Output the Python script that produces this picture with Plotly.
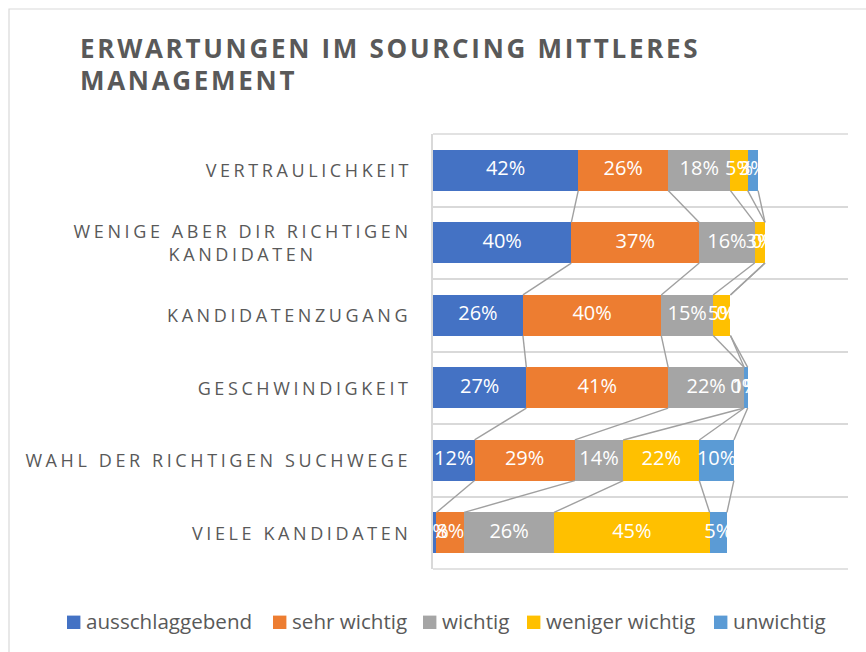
import plotly.graph_objects as go

# ---------------- data ----------------
categories = [
    "VERTRAULICHKEIT",
    "WENIGE ABER DIR RICHTIGEN<br>KANDIDATEN",
    "KANDIDATENZUGANG",
    "GESCHWINDIGKEIT",
    "WAHL DER RICHTIGEN SUCHWEGE",
    "VIELE KANDIDATEN",
]
series_names = ["ausschlaggebend", "sehr wichtig", "wichtig", "weniger wichtig", "unwichtig"]
ausschlaggebend = [42, 40, 26, 27, 12, 1]
sehr_wichtig = [26, 37, 40, 41, 29, 8]
wichtig = [18, 16, 15, 22, 14, 26]
weniger_wichtig = [5, 3, 5, 0, 22, 45]
unwichtig = [3, 0, 0, 1, 10, 5]
title_lines = ["ERWARTUNGEN IM SOURCING MITTLERES", "MANAGEMENT"]

series_values = [ausschlaggebend, sehr_wichtig, wichtig, weniger_wichtig, unwichtig]
colors = ["#4472C4", "#ED7D31", "#A5A5A5", "#FFC000", "#5B9BD5"]

# ---------------- layout geometry (pixels) ----------------
W, H = 866, 652
ML, MR, MT, MB = 433, 18, 134, 83
PW, PH = W - ML - MR, H - MT - MB


def px2x(px):
    return (px - ML) / PW


def py2y(py):
    return (H - MB - py) / PH


TXT = "#595959"
GRID = "#D9D9D9"
FONT = "Open Sans"
BAR_W = 0.56
ypos = list(range(len(categories)))

fig = go.Figure()

# stacked bars
for name, vals, col in zip(series_names, series_values, colors):
    fig.add_trace(go.Bar(
        y=ypos, x=vals, name=name, orientation="h", width=BAR_W,
        marker=dict(color=col, line=dict(width=0)),
        hoverinfo="skip", showlegend=False,
    ))

# cumulative ends for series lines and label centres
cum_end = []
running = [0] * len(categories)
for vals in series_values:
    ends = [r + v for r, v in zip(running, vals)]
    cum_end.append(ends)
    running = ends

# series lines (Excel style) connecting segment ends of consecutive bars
for ends in cum_end:
    xs, ys = [], []
    for i in range(len(categories) - 1):
        xs += [ends[i], ends[i + 1], None]
        ys += [ypos[i] + BAR_W / 2, ypos[i + 1] - BAR_W / 2, None]
    fig.add_trace(go.Scatter(
        x=xs, y=ys, mode="lines", line=dict(color="#A0A0A0", width=1.4),
        hoverinfo="skip", showlegend=False,
    ))

# data labels
for vals, ends in zip(series_values, cum_end):
    centers = [e - v / 2 for e, v in zip(ends, vals)]
    fig.add_trace(go.Scatter(
        x=centers, y=ypos, mode="text", text=[f"{v}%" for v in vals],
        textposition="middle center",
        textfont=dict(color="white", size=20, family=FONT),
        hoverinfo="skip", showlegend=False, cliponaxis=False,
    ))

annotations = []
shapes = []
spaced = {}  # annotation index -> letter spacing px

# title
title_y = [48, 80]
for line, ty in zip(title_lines, title_y):
    spaced[len(annotations)] = 2.7
    annotations.append(dict(
        text=line, xref="paper", yref="paper", x=px2x(78), y=py2y(ty),
        xanchor="left", yanchor="middle", showarrow=False, align="left",
        font=dict(family=FONT, size=26, color=TXT, weight="bold"),
    ))

# category labels
for i, cat in enumerate(categories):
    spaced[len(annotations)] = 3.6
    annotations.append(dict(
        text=cat, xref="paper", yref="y", x=px2x(410), y=ypos[i],
        xanchor="right", yanchor="middle", showarrow=False, align="center",
        font=dict(family=FONT, size=18, color=TXT),
    ))

# legend (manual)
leg_sq = [67, 273, 423, 527, 714]
leg_cy = 622.3
SQ = 13.4
for name, col, sx in zip(series_names, colors, leg_sq):
    shapes.append(dict(
        type="rect", xref="paper", yref="paper",
        x0=px2x(sx), x1=px2x(sx + SQ), y0=py2y(leg_cy + SQ / 2), y1=py2y(leg_cy - SQ / 2),
        fillcolor=col, line=dict(width=0),
    ))
    annotations.append(dict(
        text=name, xref="paper", yref="paper", x=px2x(sx + SQ + 4), y=py2y(620.5),
        xanchor="left", yanchor="middle", showarrow=False,
        font=dict(family=FONT, size=20.6, color=TXT),
    ))

# chart border
shapes.append(dict(
    type="rect", xref="paper", yref="paper", layer="below",
    x0=px2x(9), x1=px2x(W + 20), y0=py2y(H + 20), y1=py2y(9),
    line=dict(color=GRID, width=1.2), fillcolor="rgba(0,0,0,0)",
))

# category gridlines at boundaries (outer edges of the plot area as shapes)
bounds = [i - 0.5 for i in range(len(categories) + 1)]
for yb in (0, 1):
    shapes.append(dict(
        type="line", xref="paper", yref="paper", x0=0, x1=1, y0=yb, y1=yb,
        line=dict(color=GRID, width=1.5), layer="above",
    ))

fig.update_layout(
    width=W, height=H,
    margin=dict(l=ML, r=MR, t=MT, b=MB, pad=0),
    barmode="stack", bargap=0,
    plot_bgcolor="white", paper_bgcolor="white",
    showlegend=False,
    annotations=annotations, shapes=shapes,
    xaxis=dict(range=[0, 120], showgrid=False, zeroline=False, showticklabels=False,
               showline=False, fixedrange=True),
    yaxis=dict(range=[len(categories) - 0.5, -0.5], tickmode="array", tickvals=bounds,
               showticklabels=False, showgrid=True, gridcolor=GRID, gridwidth=1.5,
               zeroline=False, showline=True, linecolor=GRID, linewidth=1.5,
               ticks="", fixedrange=True),
    font=dict(family=FONT, color=TXT),
)

js_map = "{" + ",".join(f'"{k}":{v}' for k, v in spaced.items()) + "}"
post_script = """
document.body.style.margin = '0';
var gd = document.getElementById('{plot_id}');
var sp = %s;
gd.querySelectorAll('g.annotation').forEach(function(g){
  var idx = g.getAttribute('data-index');
  if(!(idx in sp)) return;
  var a = gd._fullLayout.annotations[+idx];
  var t = g.querySelector('text.annotation-text');
  if(!t) return;
  var b0 = t.getBBox();
  t.style.letterSpacing = sp[idx] + 'px';
  var b1 = t.getBBox();
  var dx = 0;
  if(a.xanchor === 'right') dx = (b0.x + b0.width) - (b1.x + b1.width) + sp[idx];
  else if(a.xanchor === 'left') dx = b0.x - b1.x;
  t.setAttribute('transform', 'translate(' + dx + ',0)');
});
""" % js_map

fig.write_html("out.html", post_script=post_script, config={"displayModeBar": False})
